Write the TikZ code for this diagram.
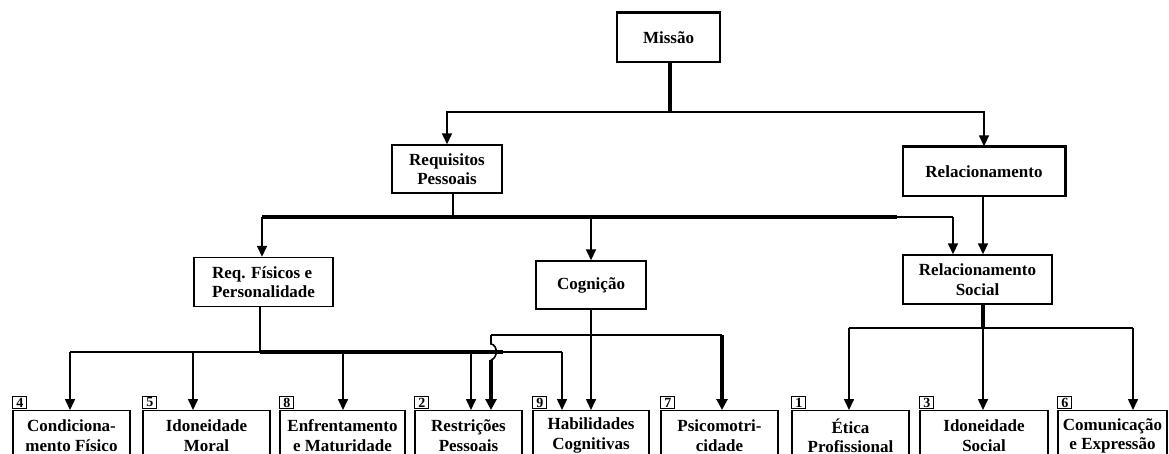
\documentclass[tikz,border=0pt]{standalone}
\usepackage{fontspec}
\setmainfont{Liberation Serif}
\usetikzlibrary{arrows.meta}
\begin{document}
\begin{tikzpicture}[x=1pt,y=-1pt,
 box/.style={draw, line width=1.4pt, inner sep=2pt, align=center, font=\fontsize{17}{19.5}\selectfont\bfseries},
 bbox/.style={box, minimum height=50pt, anchor=north},
 conn/.style={line width=1.6pt},
 thk/.style={line width=3.2pt},
 arr/.style={conn,-{Triangle[width=10pt,length=11pt]}},
 thkarr/.style={thk,-{Triangle[width=11pt,length=11pt]}},
 numlab/.style={draw, line width=1.1pt, minimum width=14pt, minimum height=12pt, inner sep=0pt, font=\fontsize{14}{14}\selectfont\bfseries, anchor=south west}]
\clip (0,0) rectangle (1169,454);
% upper levels
\node[box, minimum width=103pt, minimum height=49pt] (mis) at (668.5,37.5) {Missão};
\node[box, minimum width=110pt, minimum height=48pt] (req) at (447,169) {Requisitos\\Pessoais};
\node[box, minimum width=162pt, minimum height=49pt] (rel) at (984,171.5) {Relacionamento};
\node[box, minimum width=139pt, minimum height=49pt, align=left] (rfp) at (263.5,282) {Req. Físicos e\\Personalidade};
\node[box, minimum width=110pt, minimum height=48pt] (cog) at (591,285) {Cognição};
\node[box, minimum width=149pt, minimum height=49pt] (rls) at (977.5,279.5) {Relacionamento\\Social};
\draw[line width=3pt] (mis.north west) -- (mis.north east);
\draw[line width=3pt] (rel.north west) -- (rel.north east) -- (rel.south east);
% bottom row
\node[bbox, minimum width=117pt] (b4) at (71.5,410) {Condiciona-\\mento Físico};
\node[bbox, minimum width=127pt] (b5) at (206.5,410) {Idoneidade\\Moral};
\node[bbox, minimum width=125pt] (b8) at (342.5,410) {Enfrentamento\\e Maturidade};
\node[bbox, minimum width=107pt] (b2) at (468.5,410) {Restrições\\Pessoais};
\node[bbox, minimum width=116pt] (b9) at (591,410) {Habilidades\\Cognitivas};
\node[bbox, minimum width=117pt] (b7) at (719.5,410) {Psicomotri-\\cidade};
\node[bbox, minimum width=117pt] (b1) at (850.5,410) {Ética\\Profissional};
\node[bbox, minimum width=128pt] (b3) at (984,410) {Idoneidade\\Social};
\node[bbox, minimum width=109pt] (b6) at (1112.5,410) {Comunicação\\e Expressão};
% number labels
\node[numlab] (n4) at ([yshift=1pt]b4.north west) {4};
\node[numlab] (n5) at ([yshift=1pt]b5.north west) {5};
\node[numlab] (n8) at ([yshift=1pt]b8.north west) {8};
\node[numlab] (n2) at ([yshift=1pt]b2.north west) {2};
\node[numlab] (n9) at ([yshift=1pt]b9.north west) {9};
\node[numlab] (n7) at ([yshift=1pt]b7.north west) {7};
\node[numlab] (n1) at ([yshift=1pt]b1.north west) {1};
\node[numlab] (n3) at ([yshift=1pt]b3.north west) {3};
\node[numlab] (n6) at ([yshift=1pt]b6.north west) {6};
% Missao -> level 1
\coordinate (j1) at (670,112);
\draw[thk] (mis.south -| j1) -- (j1);
\draw[arr] (j1) -| (req.north);
\draw[arr] (j1) -| (rel.north);
% Requisitos -> level 2
\coordinate (j2) at (453,217);
\coordinate (h2L) at (262,217);
\coordinate (h2T) at (897,217);
\coordinate (h2R) at (953,217);
\draw[conn] (req.south -| j2) -- (j2);
\draw[thk] (h2L) -- (h2T);
\draw[conn] (h2T) -- (h2R);
\draw[arr] (h2L) -- (h2L |- rfp.north);
\draw[arr] (cog.north |- j2) -- (cog.north);
\draw[arr] (h2R) -- (h2R |- rls.north);
\coordinate (j2b) at (983,200);
\draw[arr] (rel.south -| j2b) -- (j2b |- rls.north);
% Req. Fisicos -> bottom
\coordinate (j3) at (260,352);
\coordinate (a4) at (70,352);
\coordinate (a5) at (193,352);
\coordinate (a8) at (343,352);
\coordinate (a2) at (471,352);
\coordinate (t3) at (503,352);
\coordinate (a9) at (562,352);
\draw[conn] (rfp.south -| j3) -- (j3);
\draw[conn] (a4) -- (j3);
\draw[thk] (j3) -- (t3);
\draw[conn] (t3) -- (a9);
\draw[arr] (a4) -- (a4 |- b4.north);
\draw[arr] (a5) -- (a5 |- b5.north);
\draw[arr] (a8) -- (a8 |- b8.north);
\draw[arr] (a2) -- (a2 |- b2.north);
\draw[arr] (a9) -- (a9 |- b9.north);
% Cognicao -> bottom
\coordinate (c1) at (491,335);
\coordinate (c2) at (722,335);
\coordinate (cb) at (491,360);
\draw[arr] (cog.south) -- (b9.north -| cog.south);
\draw[conn] (c1) -- (c2);
\draw[conn] (c1) -- (491,344) .. controls (498,345) and (498,358) .. (cb);
\draw[thkarr] (cb) -- (cb |- b2.north);
\draw[thkarr] (c2) -- (c2 |- b7.north);
% Relacionamento Social -> bottom
\coordinate (j5) at (983,328);
\coordinate (a1) at (849,328);
\coordinate (a6) at (1133,328);
\draw[thk] (rls.south -| j5) -- (j5);
\draw[conn] (a1) -- (a6);
\draw[arr] (a1) -- (a1 |- b1.north);
\draw[arr] (j5) -- (j5 |- b3.north);
\draw[arr] (a6) -- (a6 |- b6.north);
\end{tikzpicture}
\end{document}
